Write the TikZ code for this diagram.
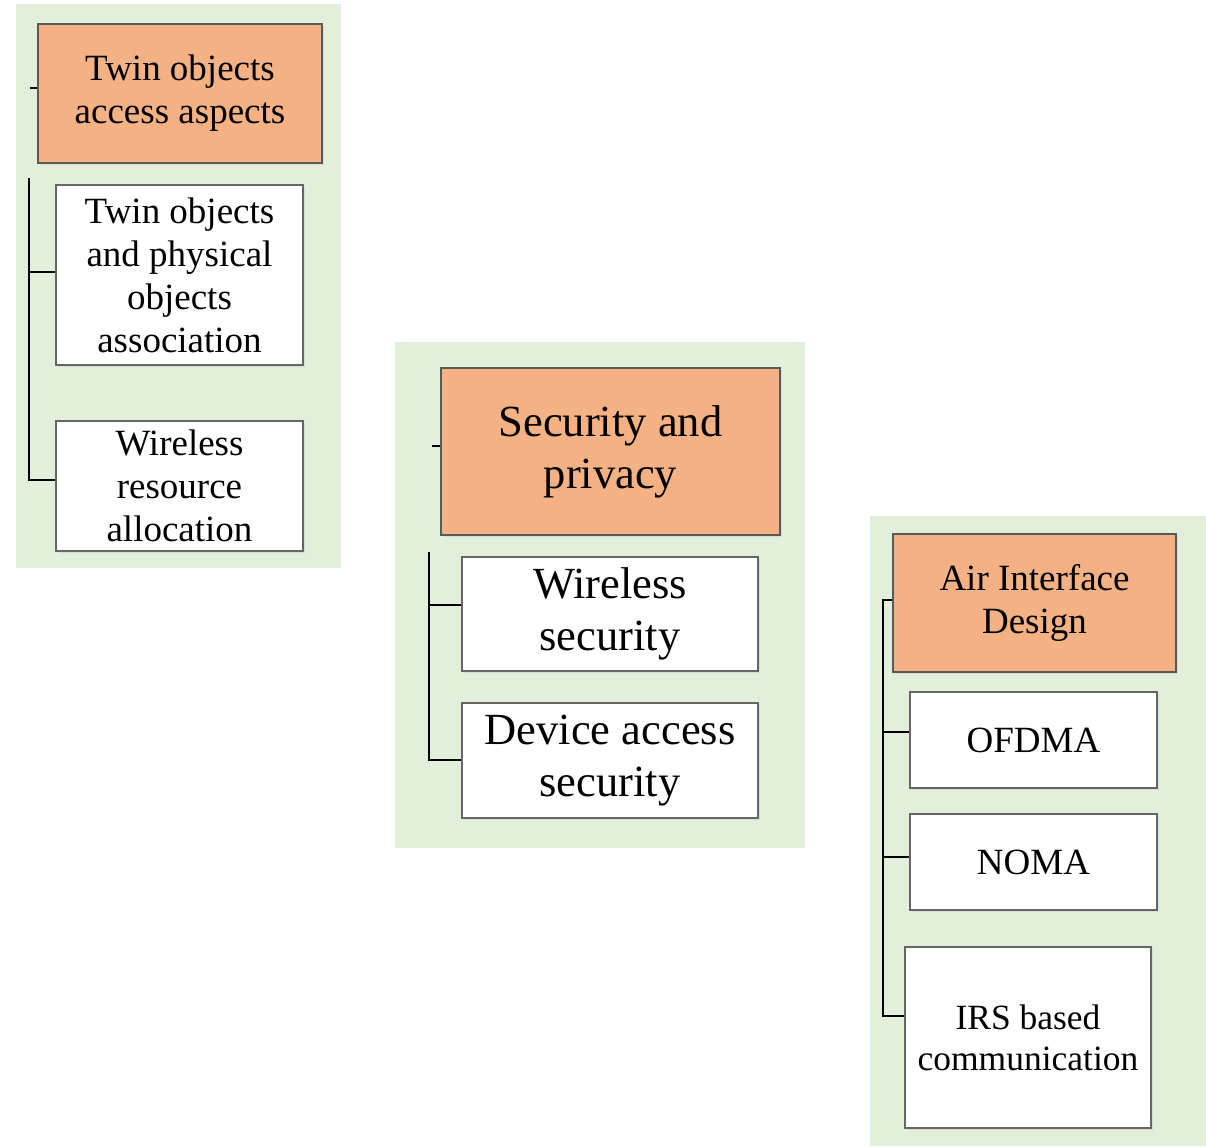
\documentclass[tikz,border=0pt]{standalone}
\usepackage{fontspec}
\setmainfont{Liberation Serif}
\usetikzlibrary{shadows}
\definecolor{panelgreen}{HTML}{E2EFDA}
\definecolor{headorange}{HTML}{F4B183}
\begin{document}
\begin{tikzpicture}[x=1pt,y=-1pt,
  panel/.style={fill=panelgreen, draw=none},
  boxbase/.style={rectangle, inner sep=0pt, align=center, line width=1.2pt,
    drop shadow={shadow xshift=1.5pt, shadow yshift=-1.5pt, fill=black!18, opacity=0.6}},
  head/.style={boxbase, fill=headorange, draw=black!65},
  leaf/.style={boxbase, fill=white, draw=black!60},
  fA/.style={font=\fontsize{37}{43}\selectfont},
  fB/.style={font=\fontsize{44.5}{52}\selectfont},
  fC/.style={font=\fontsize{35.5}{41}\selectfont},
  conn/.style={draw=black, line width=1.4pt}
]
\useasboundingbox (0,0) rectangle (1206,1146);
% panels
\fill[panel] (16,4) rectangle (341,568);
\fill[panel] (395,342) rectangle (805,848);
\fill[panel] (870,516) rectangle (1206,1146);

% Panel 1
\node[head, fA, minimum width=284pt, minimum height=139pt] (t1) at (180,93.5) {Twin objects\\access aspects};
\node[leaf, fA, minimum width=247pt, minimum height=180pt] (a1) at (179.5,275) {Twin objects\\and physical\\objects\\association};
\node[leaf, fA, minimum width=247pt, minimum height=130pt] (a2) at (179.5,486) {Wireless\\resource\\allocation};
\coordinate (p1tick) at (30,88);
\coordinate (p1top) at (29,178);
\draw[conn] (p1tick) -- (p1tick -| t1.west);
\draw[conn] (p1top) -- (p1top |- 0,480) -- (a2.west |- 0,480);
\draw[conn] (p1top |- 0,272) -- (a1.west |- 0,272);

% Panel 2
\node[head, fB, minimum width=339pt, minimum height=167pt] (t2) at (610.5,451.5) {Security and\\privacy};
\node[leaf, fB, minimum width=296pt, minimum height=114pt] (b1) at (610,614) {Wireless\\security};
\node[leaf, fB, minimum width=296pt, minimum height=115pt] (b2) at (610,760.5) {Device access\\security};
\coordinate (p2tick) at (432,446);
\coordinate (p2top) at (429,552);
\draw[conn] (p2tick) -- (p2tick -| t2.west);
\draw[conn] (p2top) -- (p2top |- 0,760) -- (b2.west |- 0,760);
\draw[conn] (p2top |- 0,605) -- (b1.west |- 0,605);

% Panel 3
\node[head, fA, minimum width=283pt, minimum height=138pt] (t3) at (1034.5,603) {Air Interface\\Design};
\node[leaf, fA, minimum width=247pt, minimum height=96pt] (c1) at (1033.5,740) {OFDMA};
\node[leaf, fA, minimum width=247pt, minimum height=96pt] (c2) at (1033.5,862) {NOMA};
\node[leaf, fC, minimum width=246pt, minimum height=181pt] (c3) at (1028,1037.5) {IRS based\\communication};
\coordinate (p3top) at (883,600);
\draw[conn] (t3.west |- 0,600) -- (p3top) -- (p3top |- 0,1016) -- (c3.west |- 0,1016);
\draw[conn] (p3top |- 0,732) -- (c1.west |- 0,732);
\draw[conn] (p3top |- 0,857) -- (c2.west |- 0,857);
\end{tikzpicture}
\end{document}
